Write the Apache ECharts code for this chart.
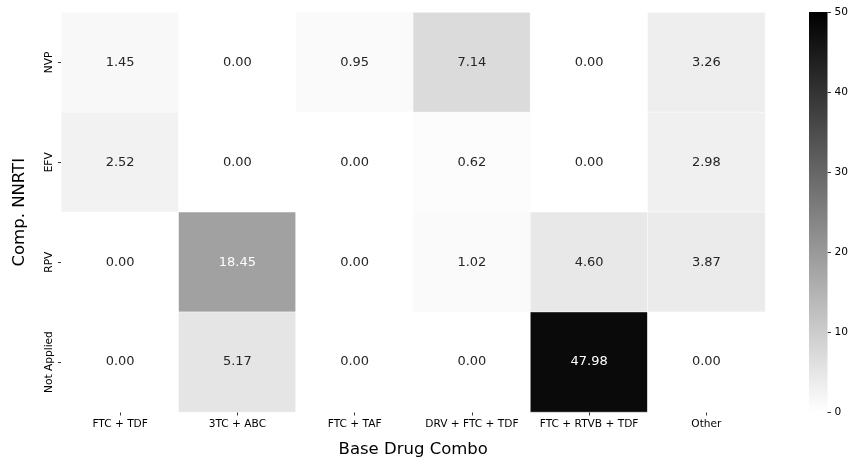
<!DOCTYPE html>
<html><head><meta charset="utf-8">
<script src="https://cdn.jsdelivr.net/npm/echarts@6/dist/echarts.min.js"></script>
<style>html,body{margin:0;padding:0;background:#fff}#c{width:851px;height:463px}</style>
</head><body><div id="c"></div>
<script>
const xCategories = ['FTC + TDF', '3TC + ABC', 'FTC + TAF', 'DRV + FTC + TDF', 'FTC + RTVB + TDF', 'Other'];
const yCategories = ['NVP', 'EFV', 'RPV', 'Not Applied'];
const rowNVP = [1.45, 0.00, 0.95, 7.14, 0.00, 3.26];
const rowEFV = [2.52, 0.00, 0.00, 0.62, 0.00, 2.98];
const rowRPV = [0.00, 18.45, 0.00, 1.02, 4.60, 3.87];
const rowNotApplied = [0.00, 5.17, 0.00, 0.00, 47.98, 0.00];
const colorbarTicks = [0, 10, 20, 30, 40, 50];

const rows = [rowNVP, rowEFV, rowRPV, rowNotApplied];
const FONT = 'DejaVu Sans';
const cMin = colorbarTicks[0], cMax = colorbarTicks[colorbarTicks.length - 1];
const data = [];
rows.forEach((r, yi) => r.forEach((v, xi) => {
  data.push({value: [xi, yi, v], label: {color: v > 15 ? '#ffffff' : '#262626'}});
}));

const chart = echarts.init(document.getElementById('c'), null, {renderer: 'canvas'});
chart.setOption({
  animation: false,
  textStyle: {fontFamily: FONT},
  grid: [
    {left: 61.5, top: 12.5, width: 703.5, height: 400},
    {left: 809, top: 12, width: 20, height: 400}
  ],
  xAxis: [
    {type: 'category', data: xCategories, gridIndex: 0,
     name: 'Base Drug Combo', nameLocation: 'middle', nameGap: 29,
     nameTextStyle: {fontSize: 16.5, color: '#000', fontFamily: FONT},
     axisLine: {show: false}, axisTick: {show: true, alignWithLabel: true, length: 3.5, lineStyle: {color: '#333'}},
     axisLabel: {fontSize: 10.6, color: '#000', margin: 7, fontFamily: FONT, interval: 0},
     splitLine: {show: false}},
    {type: 'category', gridIndex: 1, show: false, data: ['cb']}
  ],
  yAxis: [
    {type: 'category', data: yCategories, gridIndex: 0, inverse: true,
     name: 'Comp. NNRTI', nameLocation: 'middle', nameGap: 33, nameRotate: 90,
     nameTextStyle: {fontSize: 16.5, color: '#000', fontFamily: FONT},
     axisLine: {show: false}, axisTick: {show: true, alignWithLabel: true, length: 3.5, lineStyle: {color: '#333'}},
     axisLabel: {fontSize: 10.6, color: '#000', rotate: 90, margin: 7, fontFamily: FONT},
     splitLine: {show: false}},
    {type: 'value', gridIndex: 1, position: 'right', min: cMin, max: cMax, interval: 10,
     axisLine: {show: false}, axisTick: {show: true, length: 3.5, lineStyle: {color: '#333'}},
     axisLabel: {fontSize: 10.6, color: '#000', margin: 7, fontFamily: FONT},
     splitLine: {show: false}}
  ],
  visualMap: {
    type: 'continuous', min: cMin, max: cMax, seriesIndex: 0, show: false,
    inRange: {color: ['#ffffff', '#000000']}
  },
  series: [{
    type: 'heatmap', xAxisIndex: 0, yAxisIndex: 0, data: data,
    label: {show: true, fontSize: 13, fontFamily: FONT, formatter: p => p.value[2].toFixed(2)},
    itemStyle: {borderColor: '#ffffff', borderWidth: 0.5},
    emphasis: {disabled: true}
  }, {
    type: 'bar', xAxisIndex: 1, yAxisIndex: 1, data: [cMax], barWidth: '100%',
    silent: true,
    itemStyle: {color: new echarts.graphic.LinearGradient(0, 0, 0, 1, [
      {offset: 0, color: '#000000'}, {offset: 1, color: '#ffffff'}])}
  }]
});
</script></body></html>
